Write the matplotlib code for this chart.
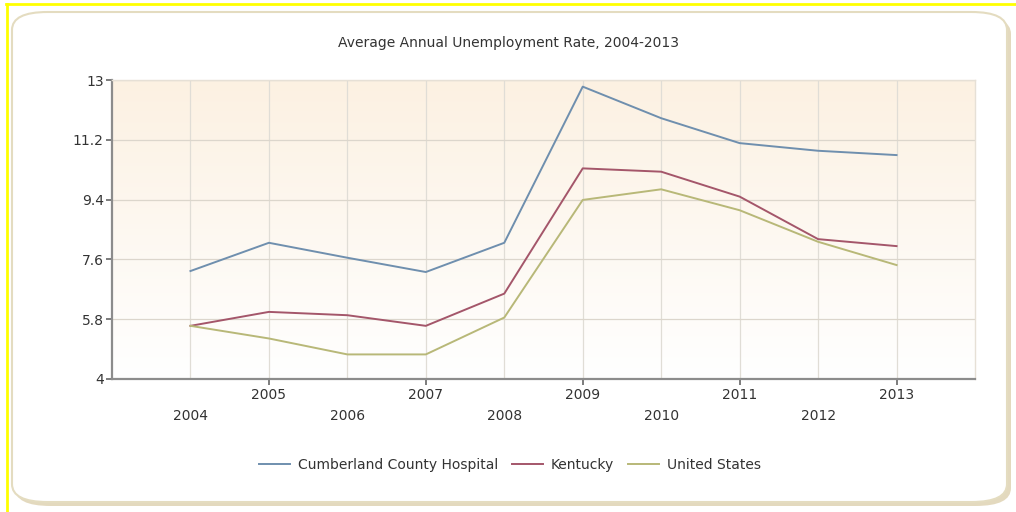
import numpy as np
import matplotlib
matplotlib.use("Agg")
import matplotlib.pyplot as plt
from matplotlib.patches import FancyBboxPatch
from matplotlib.lines import Line2D

years = [2004, 2005, 2006, 2007, 2008, 2009, 2010, 2011, 2012, 2013]
cumberland = [7.25, 8.1, 7.65, 7.22, 8.1, 12.8, 11.85, 11.1, 10.87, 10.74]
kentucky = [5.6, 6.02, 5.92, 5.6, 6.57, 10.34, 10.24, 9.49, 8.21, 8.0]
united_states = [5.6, 5.22, 4.74, 4.74, 5.85, 9.39, 9.71, 9.08, 8.13, 7.43]
series_names = ["Cumberland County Hospital", "Kentucky", "United States"]
y_ticks = [4, 5.8, 7.6, 9.4, 11.2, 13]
y_tick_labels = ["4", "5.8", "7.6", "9.4", "11.2", "13"]
title = "Average Annual Unemployment Rate, 2004-2013"

colors = ["#6f8fae", "#a4566a", "#b8b878"]

fig = plt.figure(figsize=(10.16, 5.12), dpi=100)
fig.patch.set_facecolor("white")

# outer frame with shadow
shadow = FancyBboxPatch((15 / 1016, 6 / 512), 996 / 1016, 490 / 512,
                        boxstyle="round,pad=0,rounding_size=0.035",
                        transform=fig.transFigure, facecolor="#ddd0ae",
                        edgecolor="none", zorder=-3, alpha=0.8)
fig.patches.append(shadow)
frame = FancyBboxPatch((12 / 1016, 10 / 512), 995 / 1016, 490 / 512,
                       boxstyle="round,pad=0,rounding_size=0.035",
                       transform=fig.transFigure, facecolor="white",
                       edgecolor="#e4dcc0", linewidth=1.5, zorder=-2)
fig.patches.append(frame)
# yellow border lines
fig.add_artist(Line2D([6 / 1016, 1.0], [1 - 4 / 512, 1 - 4 / 512],
                      transform=fig.transFigure, color="#ffff00", lw=2))
fig.add_artist(Line2D([7 / 1016, 7 / 1016], [0, 1 - 4 / 512],
                      transform=fig.transFigure, color="#ffff00", lw=2))

ax = fig.add_axes([112 / 1016, 1 - 379 / 512, (975 - 112) / 1016, (379 - 80) / 512])
ax.set_zorder(1)
ax.patch.set_facecolor("none")
ax.set_xlim(2003, 2014)
ax.set_ylim(4, 13)

# gradient background (light orange at top -> white at bottom)
g = np.linspace(0, 1, 256)[:, None, None]
top = np.array([252, 241, 226]) / 255
bot = np.array([255, 255, 255]) / 255
img = top * (1 - g) + bot * g
ax.imshow(img, extent=[2003, 2014, 4, 13], aspect="auto", origin="upper", zorder=0)

for v in years:
    ax.axvline(v, color="#e0ddd6", lw=0.9, zorder=1)
for v in y_ticks:
    ax.axhline(v, color="#dcd6cc", lw=0.9, zorder=1)

for data, name, c in zip([cumberland, kentucky, united_states], series_names, colors):
    ax.plot(years, data, color=c, lw=1.4, label=name, zorder=3)

ax.set_yticks(y_ticks)
ax.set_yticklabels(y_tick_labels)
ax.set_xticks(years[1::2])
ax.set_xticklabels([])
for i, yr in enumerate(years):
    yoff = -0.03 if i % 2 == 1 else -0.1
    ax.text(yr, yoff, str(yr), transform=ax.get_xaxis_transform(), ha="center",
            va="top", fontsize=10, color="#333333")

ax.tick_params(axis="y", length=4, width=1.2, color="#666666", labelsize=10,
               labelcolor="#333333", pad=2)
ax.tick_params(axis="x", length=4, width=1.2, color="#666666", direction="out")

for s in ["left", "bottom"]:
    ax.spines[s].set_color("#8c8c8c")
    ax.spines[s].set_linewidth(1.6)
for s in ["top", "right"]:
    ax.spines[s].set_color("#e6e0d6")
    ax.spines[s].set_linewidth(1.0)

fig.text(508 / 1016, 1 - 43 / 512, title, ha="center", va="center",
         fontsize=10, color="#333333")

leg = fig.legend(loc="center", bbox_to_anchor=(510 / 1016, 1 - 465 / 512), ncol=3,
                 frameon=False, fontsize=10, handlelength=2.2, columnspacing=1.0,
                 handletextpad=0.6)
for t in leg.get_texts():
    t.set_color("#333333")

fig.savefig("out.png", dpi=100, facecolor="white")
